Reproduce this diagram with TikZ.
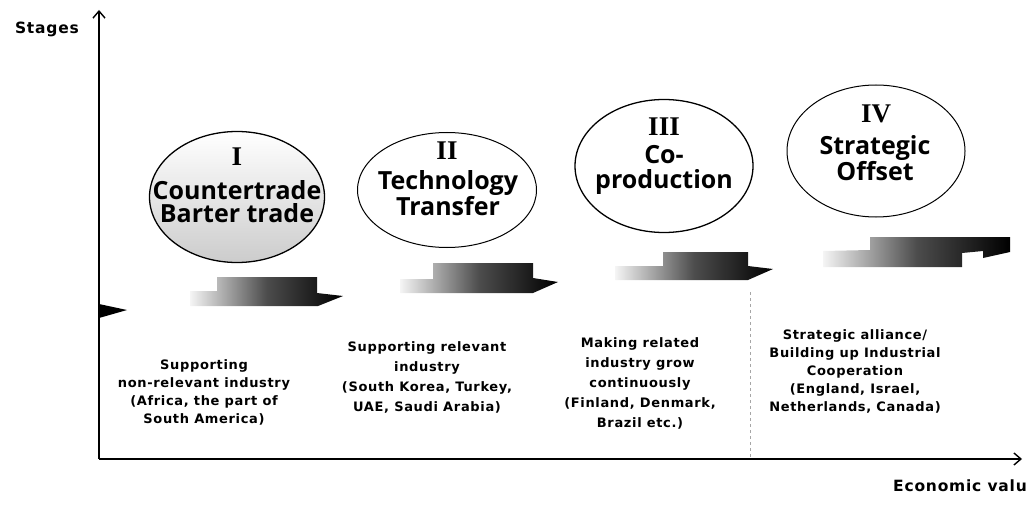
\documentclass[tikz,border=0pt]{standalone}
\usepackage{fontspec}
\usetikzlibrary{arrows.meta,shapes.geometric}
\newfontfamily\ellfont{Open Sans}
\newfontfamily\lblfont{DejaVu Sans}[LetterSpace=5]
\newfontfamily\romfont{Liberation Serif}
\tikzset{
  stageell/.style={draw=black, line width=1.3pt, ellipse, inner sep=0pt},
  romtxt/.style={font=\romfont\bfseries\fontsize{27}{27}\selectfont, inner sep=0pt},
  elltxt/.style={font=\ellfont\bfseries\fontsize{25}{23}\selectfont, align=center, inner sep=0pt},
  desctxt/.style={font=\lblfont\bfseries\fontsize{13}{18}\selectfont, align=center, inner sep=0pt},
  axistxt/.style={font=\lblfont\bfseries\fontsize{15.5}{17}\selectfont, inner sep=0pt},
  axisline/.style={line width=1.6pt, -{Straight Barb[length=7pt,width=12pt,line width=1.4pt]}},
  stepshade/.style={left color=gray!8, right color=black, middle color=gray!60!black},
}
\begin{document}
\begin{tikzpicture}[x=1pt,y=-1pt]
\useasboundingbox (0,0) rectangle (1028,508);
% axes
\coordinate (O) at (99,459);
\coordinate (ytop) at (99,10);
\coordinate (xend) at (1022,459);
\draw[axisline] (O) -- (ytop);
\draw[axisline] (O) -- (xend);
\node[axistxt, anchor=east] (stages) at (79,29) {Stages};
\node[axistxt, anchor=west] (econ) at (893,486) {Economic value};
% dashed divider
\coordinate (d1) at (750,292);
\coordinate (d2) at (750,457);
\draw[gray!70, dashed, line width=0.5pt] (d1) -- (d2);
% small arrow at axis
\fill[black] (99,304) -- (127,310) -- (99,318) -- cycle;
% step shapes
\shade[stepshade] (217,277) -- (317,277) -- (317,293) -- (343,296) -- (318,306) -- (190,306) -- (190,291) -- (217,291) -- cycle;
\shade[stepshade] (433,263) -- (533,263) -- (533,278) -- (558,282) -- (533,293) -- (400,293) -- (400,279) -- (433,279) -- cycle;
\shade[stepshade] (663,252) -- (748,252) -- (748,266) -- (773,269) -- (748,280) -- (615,280) -- (615,266) -- (663,266) -- cycle;
\shade[stepshade] (870,237) -- (1010,237) -- (1010,252) -- (983,258) -- (983,251) -- (962,253) -- (962,267) -- (823,267) -- (823,251) -- (870,250) -- cycle;
% ellipses
\node[stageell, minimum width=175pt, minimum height=131pt, top color=white, middle color=white, bottom color=gray!40] (e1) at (237,197) {};
\node[stageell, minimum width=179pt, minimum height=115pt, line width=1pt] (e2) at (447,190) {};
\node[stageell, minimum width=178pt, minimum height=133pt] (e3) at (664,166) {};
\node[stageell, minimum width=178pt, minimum height=132pt, line width=1pt] (e4) at (876,151) {};
% ellipse texts
\node[romtxt] (r1) at (237,157) {I};
\node[elltxt] (t1) at (237,202) {Countertrade\\Barter trade};
\node[romtxt] (r2) at (447,151) {II};
\node[elltxt, font=\ellfont\bfseries\fontsize{25}{21}\selectfont] (t2) at (448,193) {Technology\\Transfer};
\node[romtxt] (r3) at (664,127) {III};
\node[elltxt, font=\ellfont\bfseries\fontsize{25}{25}\selectfont] (t3) at (664,170) {Co-\\production};
\node[romtxt] (r4) at (876,114) {IV};
\node[elltxt, font=\ellfont\bfseries\fontsize{25}{21}\selectfont] (t4) at (875,158) {Strategic\\Offset};
% descriptions
\node[desctxt] (d1t) at (204,392) {Supporting\\non-relevant industry\\(Africa, the part of\\South America)};
\node[desctxt, font=\lblfont\bfseries\fontsize{13}{20}\selectfont] (d2t) at (427,377) {Supporting relevant\\industry\\(South Korea, Turkey,\\UAE, Saudi Arabia)};
\node[desctxt, font=\lblfont\bfseries\fontsize{13}{20}\selectfont] (d3t) at (640,383) {Making related\\industry grow\\continuously\\(Finland, Denmark,\\Brazil etc.)};
\node[desctxt, font=\lblfont\bfseries\fontsize{13}{18}\selectfont] (d4t) at (855,371) {Strategic alliance/\\Building up Industrial\\Cooperation\\(England, Israel,\\Netherlands, Canada)};
\end{tikzpicture}
\end{document}
